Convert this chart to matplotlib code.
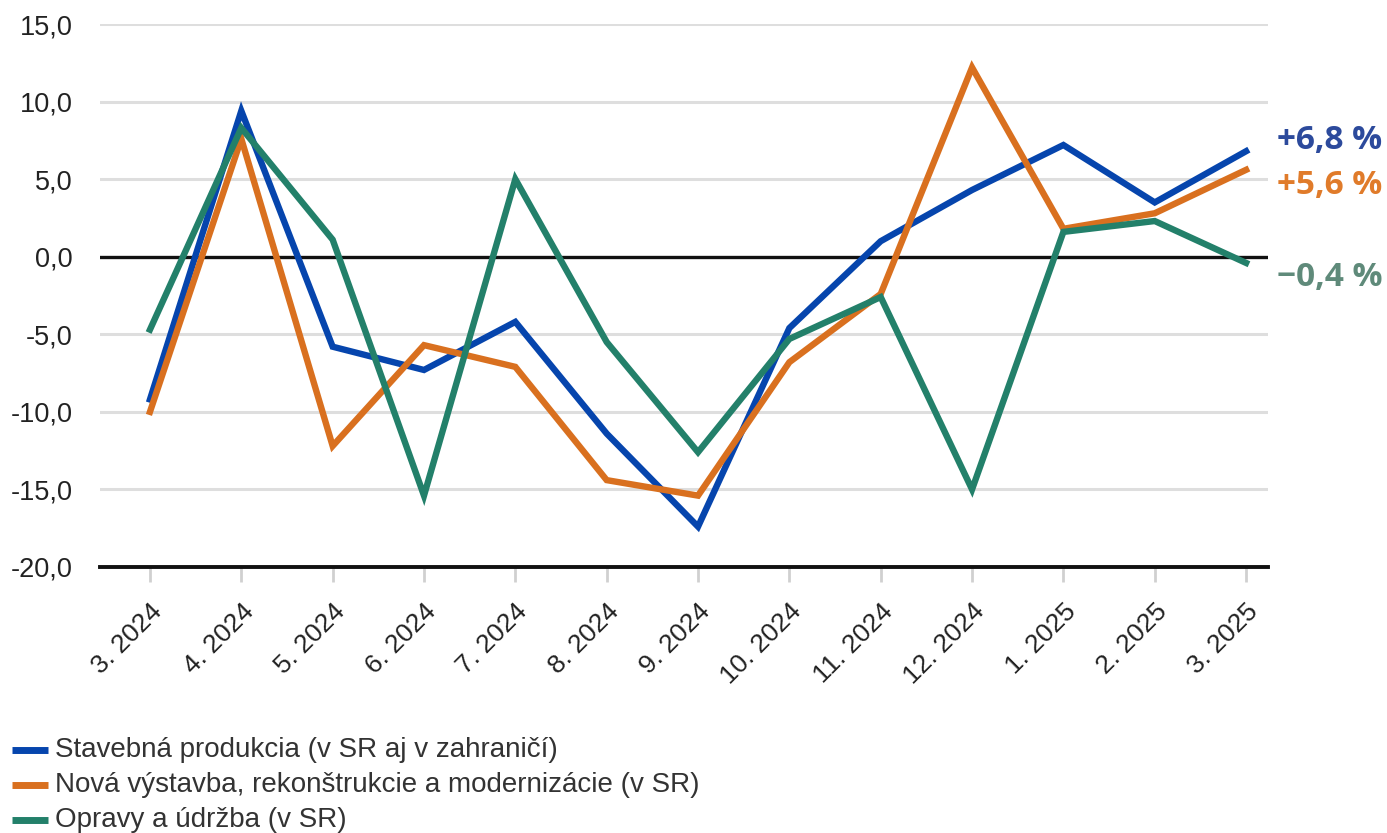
import matplotlib
matplotlib.use("Agg")
import matplotlib.pyplot as plt

plt.rcParams['font.family'] = ['Liberation Sans', 'DejaVu Sans']

categories = ["3. 2024", "4. 2024", "5. 2024", "6. 2024", "7. 2024", "8. 2024", "9. 2024",
              "10. 2024", "11. 2024", "12. 2024", "1. 2025", "2. 2025", "3. 2025"]
stavebna = [-9.2, 9.4, -5.8, -7.3, -4.2, -11.4, -17.4, -4.6, 1.0, 4.3, 7.2, 3.5, 6.8]
nova = [-10.0, 7.6, -12.2, -5.7, -7.1, -14.4, -15.4, -6.8, -2.4, 12.2, 1.8, 2.8, 5.6]
opravy = [-4.7, 8.3, 1.1, -15.4, 5.0, -5.5, -12.6, -5.3, -2.6, -15.0, 1.6, 2.3, -0.4]

series_names = ["Stavebná produkcia (v SR aj v zahraničí)",
                "Nová výstavba, rekonštrukcie a modernizácie (v SR)",
                "Opravy a údržba (v SR)"]
end_labels = ["+6,8 %", "+5,6 %", "\u22120,4 %"]
yticks = [-20, -15, -10, -5, 0, 5, 10, 15]
ytick_labels = ["-20,0", "-15,0", "-10,0", "-5,0", "0,0", "5,0", "10,0", "15,0"]

line_colors = ["#0645ad", "#d9701f", "#23806a"]
label_colors = ["#2c4a9c", "#e07b2a", "#5f8a7a"]

W, H = 1387, 833
fig = plt.figure(figsize=(W / 100, H / 100), dpi=100)
ax = fig.add_axes([100 / W, 1 - 567 / H, (1268 - 100) / W, (567 - 24) / H])

x = list(range(len(categories)))
for vals, c in zip([stavebna, nova, opravy], line_colors):
    ax.plot(x, vals, color=c, lw=4.6, solid_joinstyle='miter', zorder=3)

ax.set_xlim(-0.547, 12.24)
ax.set_ylim(-20, 15)

for yv in yticks:
    if yv == 0 or yv == -20:
        continue
    ax.axhline(yv, color="#dedede", lw=2.2, zorder=1)
ax.axhline(0, color="#111111", lw=2.4, zorder=2)
ax.axhline(-20, color="#111111", lw=2.8, zorder=2, clip_on=False)

for s in ax.spines.values():
    s.set_visible(False)

ax.set_yticks(yticks)
ax.set_yticklabels(ytick_labels, fontsize=19.5, color="#222222")
ax.tick_params(axis='y', length=0, pad=19.5)

ax.set_xticks(x)
ax.set_xticklabels(categories, rotation=45, ha='right', rotation_mode='anchor',
                   fontsize=19, color="#222222")
ax.tick_params(axis='x', length=11, width=2, color="#d0d0d0", pad=12)

# end labels
label_y = [140, 186, 277]
for txt, c, py in zip(end_labels, label_colors, label_y):
    fig.text(1277 / W, 1 - py / H, txt, color=c, fontsize=24, fontweight='bold',
             ha='left', va='center', family=['Open Sans', 'DejaVu Sans'])

# legend
leg_y = [750, 785, 820]
for name, c, py in zip(series_names, line_colors, leg_y):
    fy = 1 - py / H
    fig.add_artist(plt.Line2D([12 / W, 48 / W], [fy, fy], color=c, lw=5,
                              solid_capstyle='butt', transform=fig.transFigure))
    fig.text(55 / W, fy, name, color="#333333", fontsize=20, ha='left', va='center')

fig.savefig("out.png", dpi=100, facecolor="white")
